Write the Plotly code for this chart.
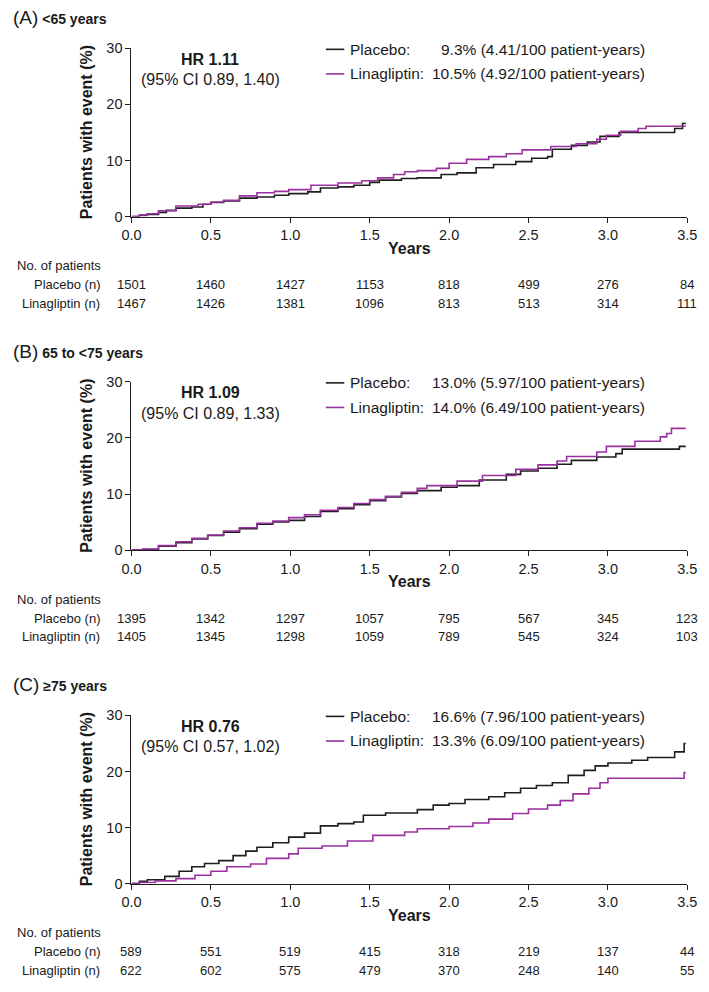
import plotly.graph_objects as go

W, H = 709, 992

# ---------------- data ----------------
panel_labels = ["(A)", "(B)", "(C)"]
panel_titles = ["&lt;65 years", "65 to &lt;75 years", "≥75 years"]
hr_text = ["HR 1.11", "HR 1.09", "HR 0.76"]
ci_text = ["(95% CI 0.89, 1.40)", "(95% CI 0.89, 1.33)", "(95% CI 0.57, 1.02)"]
placebo_legend = ["9.3% (4.41/100 patient-years)", "13.0% (5.97/100 patient-years)", "16.6% (7.96/100 patient-years)"]
lina_legend = ["10.5% (4.92/100 patient-years)", "14.0% (6.49/100 patient-years)", "13.3% (6.09/100 patient-years)"]

tick_years = [0.0, 0.5, 1.0, 1.5, 2.0, 2.5, 3.0, 3.5]
risk_placebo = [
    [1501, 1460, 1427, 1153, 818, 499, 276, 84],
    [1395, 1342, 1297, 1057, 795, 567, 345, 123],
    [589, 551, 519, 415, 318, 219, 137, 44],
]
risk_lina = [
    [1467, 1426, 1381, 1096, 813, 513, 314, 111],
    [1405, 1345, 1298, 1059, 789, 545, 324, 103],
    [622, 602, 575, 479, 370, 248, 140, 55],
]

# Kaplan-Meier style cumulative incidence (%), step points
a_plac_t = [0, 0.05, 0.10, 0.17, 0.22, 0.28, 0.38, 0.45, 0.50, 0.58, 0.68, 0.79, 0.90, 0.99, 1.11, 1.19, 1.30, 1.40,
            1.50, 1.56, 1.70, 1.80, 1.95, 2.05, 2.17, 2.28, 2.42, 2.52, 2.62, 2.65, 2.77, 2.87, 2.95, 3.07, 3.42, 3.47, 3.49]
a_plac_y = [0, 0.2, 0.4, 0.75, 1.1, 1.5, 1.7, 2.2, 2.5, 2.8, 3.3, 3.5, 3.8, 4.1, 4.4, 5.1, 5.3, 5.6,
            6.1, 6.5, 6.8, 6.9, 7.5, 7.8, 8.7, 9.3, 9.8, 10.4, 10.7, 12.0, 12.7, 13.3, 14.3, 15.0, 15.7, 16.6, 16.6]
a_lina_t = [0, 0.05, 0.10, 0.17, 0.28, 0.42, 0.50, 0.58, 0.68, 0.79, 0.90, 0.99, 1.13, 1.30, 1.45, 1.55, 1.65, 1.72,
            1.80, 1.92, 2.00, 2.11, 2.25, 2.36, 2.46, 2.64, 2.80, 2.93, 2.99, 3.08, 3.19, 3.24, 3.49]
a_lina_y = [0, 0.3, 0.5, 1.05, 1.9, 2.2, 2.6, 2.9, 3.7, 4.25, 4.5, 4.8, 5.6, 6.0, 6.4, 6.9, 7.5, 8.0,
            8.2, 8.6, 9.5, 10.2, 10.7, 11.2, 11.9, 12.5, 13.0, 13.8, 14.5, 15.2, 15.7, 16.1, 16.1]

b_plac_t = [0, 0.07, 0.17, 0.28, 0.38, 0.48, 0.58, 0.68, 0.79, 0.89, 0.99, 1.09, 1.19, 1.30, 1.40, 1.50, 1.60, 1.70,
            1.80, 1.95, 2.05, 2.19, 2.36, 2.45, 2.56, 2.68, 2.77, 2.93, 3.05, 3.09, 3.45, 3.49]
b_plac_y = [0, 0.1, 0.7, 1.3, 2.0, 2.6, 3.2, 3.8, 4.6, 5.0, 5.3, 6.0, 6.9, 7.4, 8.1, 8.8, 9.5, 10.1,
            10.6, 11.2, 11.5, 12.5, 13.5, 14.1, 14.6, 15.3, 16.0, 16.6, 17.2, 18.0, 18.5, 18.5]
b_lina_t = [0, 0.07, 0.17, 0.28, 0.38, 0.48, 0.58, 0.68, 0.79, 0.89, 0.99, 1.09, 1.19, 1.30, 1.40, 1.50, 1.60, 1.70,
            1.80, 1.86, 2.05, 2.21, 2.42, 2.56, 2.68, 2.74, 2.93, 2.99, 3.17, 3.33, 3.37, 3.40, 3.49]
b_lina_y = [0, 0.2, 0.8, 1.5, 2.1, 2.7, 3.4, 4.0, 4.8, 5.2, 5.8, 6.3, 7.1, 7.6, 8.3, 9.0, 9.6, 10.3,
            11.0, 11.5, 12.3, 13.3, 14.4, 15.2, 15.9, 16.7, 17.5, 18.5, 19.4, 20.2, 20.8, 21.7, 21.7]

c_plac_t = [0, 0.05, 0.10, 0.21, 0.30, 0.38, 0.46, 0.55, 0.64, 0.72, 0.79, 0.89, 0.99, 1.09, 1.19, 1.30, 1.40, 1.46,
            1.60, 1.80, 1.90, 2.00, 2.10, 2.25, 2.35, 2.45, 2.55, 2.65, 2.75, 2.85, 2.92, 3.00, 3.15, 3.25, 3.42, 3.48, 3.49]
c_plac_y = [0, 0.4, 0.7, 1.3, 2.2, 3.0, 3.6, 4.1, 5.0, 5.8, 6.5, 7.3, 8.3, 9.0, 10.3, 10.7, 11.0, 12.2,
            12.6, 13.2, 14.0, 14.3, 15.0, 15.5, 16.2, 17.0, 17.5, 18.0, 19.3, 20.2, 21.0, 21.5, 22.0, 22.5, 23.5, 25.0, 25.0]
c_lina_t = [0, 0.05, 0.15, 0.28, 0.40, 0.50, 0.60, 0.75, 0.85, 0.99, 1.05, 1.20, 1.36, 1.52, 1.72, 1.80, 2.00, 2.15,
            2.25, 2.40, 2.50, 2.62, 2.70, 2.78, 2.88, 2.95, 3.00, 3.46, 3.48, 3.49]
c_lina_y = [0, 0.2, 0.5, 0.9, 1.5, 2.2, 3.0, 3.5, 4.5, 5.3, 6.3, 6.7, 7.6, 8.6, 9.2, 9.8, 10.2, 10.8,
            11.5, 12.5, 13.3, 14.0, 14.8, 16.0, 17.0, 18.0, 18.8, 18.8, 19.8, 19.8]

curves = [
    (a_plac_t, a_plac_y, a_lina_t, a_lina_y),
    (b_plac_t, b_plac_y, b_lina_t, b_lina_y),
    (c_plac_t, c_plac_y, c_lina_t, c_lina_y),
]

# ---------------- styling ----------------
BLACK = "#1e1e1e"
PURPLE = "#9B30A0"
TXT = "#1a1a1a"
REG = "Liberation Sans, Arial, sans-serif"

tops = [41, 380, 719]
PH = 171
X0, X1 = 125, 697


def py(p):
    return 1 - p / H


def px(p):
    return p / W


fig = go.Figure()
annotations = []
shapes = []
layout = {}

for i in range(3):
    sfx = "" if i == 0 else str(i + 1)
    xa, ya = "x" + sfx, "y" + sfx
    top = tops[i]
    bot = top + PH
    pt, pyv, lt, ly = curves[i]
    fig.add_trace(go.Scatter(x=pt, y=pyv, mode="lines", line=dict(color=BLACK, width=1.6, shape="hv"),
                             xaxis=xa, yaxis=ya, showlegend=False, hoverinfo="skip"))
    fig.add_trace(go.Scatter(x=lt, y=ly, mode="lines", line=dict(color=PURPLE, width=1.6, shape="hv"),
                             xaxis=xa, yaxis=ya, showlegend=False, hoverinfo="skip"))

    layout["xaxis" + sfx] = dict(
        domain=[px(X0), px(X1)], anchor=ya, range=[0, 3.5], tickvals=tick_years,
        ticktext=[f"{v:.1f}" for v in tick_years], ticks="outside", ticklen=5, tickcolor=BLACK,
        showline=True, linecolor=BLACK, linewidth=1.2, showgrid=False, zeroline=False,
        tickfont=dict(family=REG, size=14.5, color=TXT), fixedrange=True,
    )
    layout["yaxis" + sfx] = dict(
        domain=[py(bot), py(top)], anchor=xa, range=[0, 30], tickvals=[0, 10, 20, 30],
        ticks="outside", ticklen=5, tickcolor=BLACK, showline=True, linecolor=BLACK, linewidth=1.2,
        showgrid=False, zeroline=False, tickfont=dict(family=REG, size=14.5, color=TXT), fixedrange=True,
    )

    # panel title
    annotations.append(dict(
        xref="paper", yref="paper", x=px(1), y=py(top - 31), xanchor="left", yanchor="middle",
        text=f"<span style='font-size:19px'>{panel_labels[i]}</span> <b>{panel_titles[i]}</b>",
        showarrow=False, font=dict(family=REG, size=14, color=TXT)))
    # y axis title
    annotations.append(dict(
        xref="paper", yref="paper", x=px(79), y=py(top + PH / 2), xanchor="center", yanchor="middle",
        text="<b>Patients with event (%)</b>", textangle=-90, showarrow=False,
        font=dict(family=REG, size=16, color=TXT)))
    # x axis title
    annotations.append(dict(
        xref="paper", yref="paper", x=px((X0 + X1) / 2), y=py(bot + 32), xanchor="center", yanchor="middle",
        text="<b>Years</b>", showarrow=False, font=dict(family=REG, size=16, color=TXT)))
    # HR
    annotations.append(dict(
        xref="paper", yref="paper", x=px(206), y=py(top + 11), xanchor="center", yanchor="middle",
        text=f"<b>{hr_text[i]}</b>", showarrow=False, font=dict(family=REG, size=16, color=TXT)))
    annotations.append(dict(
        xref="paper", yref="paper", x=px(206), y=py(top + 32), xanchor="center", yanchor="middle",
        text=ci_text[i], showarrow=False, font=dict(family=REG, size=16, color=TXT)))
    # legend
    for j, (lab, val, col) in enumerate([("Placebo:", placebo_legend[i], BLACK),
                                          ("Linagliptin:", lina_legend[i], PURPLE)]):
        yy = top + 1 + 25 * j
        shapes.append(dict(type="line", xref="paper", yref="paper", x0=px(325), x1=px(344),
                           y0=py(yy), y1=py(yy), line=dict(color=col, width=1.6)))
        annotations.append(dict(
            xref="paper", yref="paper", x=px(348), y=py(yy), xanchor="left", yanchor="middle",
            text=lab, showarrow=False, font=dict(family=REG, size=15.5, color=TXT)))
        annotations.append(dict(
            xref="paper", yref="paper", x=px(655), y=py(yy), xanchor="right", yanchor="middle",
            text=val, showarrow=False, font=dict(family=REG, size=15.5, color=TXT)))
    # risk table
    annotations.append(dict(
        xref="paper", yref="paper", x=px(5), y=py(bot + 50), xanchor="left", yanchor="middle",
        text="No. of patients", showarrow=False, font=dict(family=REG, size=13, color=TXT)))
    for j, (lab, vals) in enumerate([("Placebo (n)", risk_placebo[i]), ("Linagliptin (n)", risk_lina[i])]):
        yy = bot + 69 + 19 * j
        annotations.append(dict(
            xref="paper", yref="paper", x=px(95), y=py(yy), xanchor="right", yanchor="middle",
            text=lab, showarrow=False, font=dict(family=REG, size=13, color=TXT)))
        for t, v in zip(tick_years, vals):
            annotations.append(dict(
                xref=xa, yref="paper", x=t, y=py(yy), xanchor="center", yanchor="middle",
                text=str(v), showarrow=False, font=dict(family=REG, size=13, color=TXT)))

fig.update_layout(
    width=W, height=H, margin=dict(l=0, r=0, t=0, b=0),
    paper_bgcolor="white", plot_bgcolor="white",
    annotations=annotations, shapes=shapes, showlegend=False, **layout,
)

fig.write_html("out.html", config={"displayModeBar": False},
               post_script="document.body.style.margin='0px';document.body.style.overflow='hidden';")
